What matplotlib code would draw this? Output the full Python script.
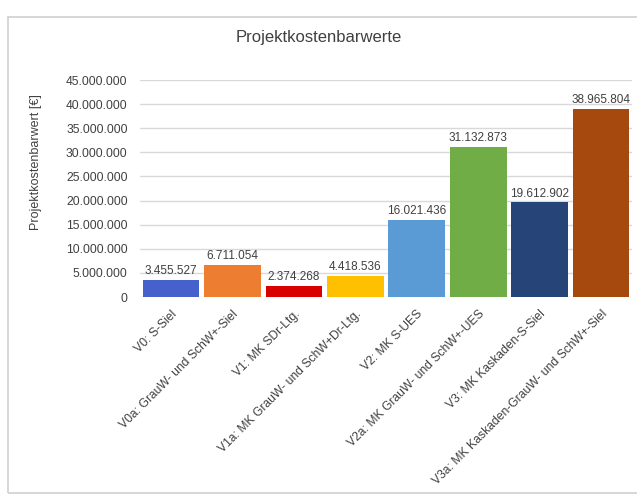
import matplotlib.pyplot as plt
from matplotlib.patches import Rectangle
from matplotlib.ticker import FuncFormatter

plt.rcParams["font.family"] = ["Liberation Sans", "DejaVu Sans"]

# Daten
varianten = [
    "V0: S-Siel",
    "V0a: GrauW- und SchW+-Siel",
    "V1: MK SDr-Ltg.",
    "V1a: MK GrauW- und SchW+Dr-Ltg.",
    "V2: MK S-UES",
    "V2a: MK GrauW- und SchW+-UES",
    "V3: MK Kaskaden-S-Siel",
    "V3a: MK Kaskaden-GrauW- und SchW+-Siel",
]
kosten = [3455527, 6711054, 2374268, 4418536, 16021436, 31132873, 19612902, 38965804]
farben = ["#4660cc", "#ed7d31", "#d90000", "#ffc000",
          "#5b9bd5", "#70ad47", "#264478", "#a5490f"]
yticks = [0, 5000000, 10000000, 15000000, 20000000, 25000000,
          30000000, 35000000, 40000000, 45000000]

def de_format(v, pos=None):
    return f"{int(round(v)):,}".replace(",", ".")

fig = plt.figure(figsize=(6.37, 4.98), dpi=100)
ax = fig.add_axes([0.22, 0.4036, 0.772, 0.4357])

# Rahmen
fig.patches.append(Rectangle((0.013, 0.01), 1.2, 0.955, transform=fig.transFigure,
                             fill=False, edgecolor="#d0d0d0", linewidth=1.2))

x = range(len(kosten))
bars = ax.bar(x, kosten, width=0.92, color=farben, zorder=3)

for xi, k in zip(x, kosten):
    ax.text(xi, k + 600000, de_format(k), ha="center", va="bottom",
            fontsize=8.5, color="#404040")

ax.set_xlim(-0.5, 7.5)
ax.set_ylim(0, 45000000)
ax.set_yticks(yticks)
ax.yaxis.set_major_formatter(FuncFormatter(de_format))
ax.grid(axis="y", color="#d9d9d9", linewidth=1, zorder=0)
ax.set_xticks(list(x))
ax.set_xticklabels(varianten, rotation=45, ha="right", rotation_mode="anchor",
                   fontsize=8.7, color="#404040")
ax.tick_params(axis="x", length=0, pad=8)
ax.tick_params(axis="y", length=0, pad=9, labelsize=8.7, labelcolor="#404040")
for s in ax.spines.values():
    s.set_visible(False)

ax.set_ylabel("Projektkostenbarwert [€]", fontsize=9, color="#404040")
ax.yaxis.set_label_coords(-0.2, 0.62)
fig.text(0.5, 0.925, "Projektkostenbarwerte", ha="center", va="center",
         fontsize=12, color="#404040")

fig.savefig("out.png", dpi=100)
